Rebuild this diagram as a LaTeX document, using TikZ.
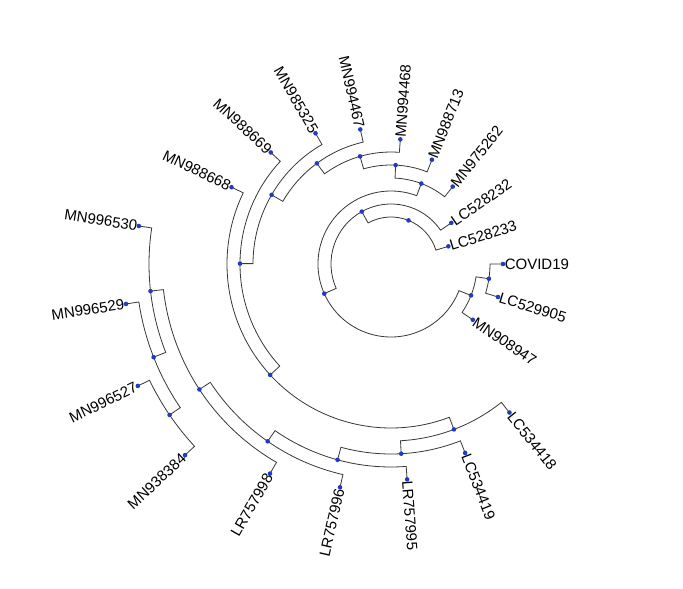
\documentclass[tikz,border=0pt]{standalone}
\usepackage{fontspec}
\setmainfont{Liberation Sans}
\definecolor{dotblue}{RGB}{35,60,190}
\definecolor{linegray}{RGB}{55,55,55}
\begin{document}
\begin{tikzpicture}[x=1pt,y=1pt,
  link/.style={draw=linegray, line width=0.8pt},
  dot/.style={circle, fill=dotblue, inner sep=0pt, minimum size=4.6pt},
  lab/.style={inner sep=1.6pt, font=\fontsize{15}{17}\selectfont},
  labr/.style={lab, anchor=west},
  labl/.style={lab, anchor=east}]
\useasboundingbox (-391,-325) rectangle (292,264);
\newcommand\tnode[3]{\coordinate (#1) at (#2:#3pt);%
  \expandafter\def\csname ang#1\endcsname{#2}%
  \expandafter\def\csname rad#1\endcsname{#3}}
\newcommand\lnk[2]{\draw[link] (#1) arc[start angle=\csname ang#1\endcsname, end angle=\csname ang#2\endcsname, radius=\csname rad#1\endcsname pt] -- (#2);}
% tree nodes (angle, radius)
\tnode{Y}{-291.8644}{47}
\tnode{X}{-240.8717}{60}
\tnode{LC528233}{-342.8571}{60}
\tnode{Da}{-156.0291}{73}
\tnode{LC528232}{-325.7143}{73}
\tnode{Q}{-21.4286}{86}
\tnode{W}{-290.6297}{86}
\tnode{P}{-8.5714}{99}
\tnode{MN908947}{-34.2857}{99}
\tnode{COVID19}{0}{112}
\tnode{LC529905}{-17.1429}{112}
\tnode{C}{-272.6880}{99}
\tnode{MN975262}{-308.5714}{99}
\tnode{B}{-253.9474}{112}
\tnode{MN988713}{-291.4286}{112}
\tnode{A}{-233.6091}{125}
\tnode{MN994468}{-274.2857}{125}
\tnode{Pa}{-210.0753}{138}
\tnode{MN994467}{-257.1429}{138}
\tnode{Na}{-180.1507}{151}
\tnode{MN985325}{-240}{151}
\tnode{Dsix}{-137.4442}{164}
\tnode{MN988669}{-222.8571}{164}
\tnode{Ea}{-69.1741}{177}
\tnode{MN988668}{-205.7143}{177}
\tnode{Eb}{-86.9196}{190}
\tnode{LC534418}{-51.4286}{190}
\tnode{Ec}{-105.2679}{203}
\tnode{LC534419}{-68.5714}{203}
\tnode{Ed}{-124.8214}{216}
\tnode{LR757995}{-85.7143}{216}
\tnode{Dfour}{-146.7857}{229}
\tnode{LR757996}{-102.8571}{229}
\tnode{Done}{-173.5714}{242}
\tnode{LR757998}{-120}{242}
\tnode{Dthree}{-158.5714}{255}
\tnode{MN996530}{-188.5714}{255}
\tnode{Dtwo}{-145.7143}{268}
\tnode{MN996529}{-171.4286}{268}
\tnode{MN938384}{-137.1429}{281}
\tnode{MN996527}{-154.2857}{281}
% links
\lnk{Y}{X}\lnk{Y}{LC528233}
\lnk{X}{Da}\lnk{X}{LC528232}
\lnk{Da}{Q}\lnk{Da}{W}
\lnk{Q}{P}\lnk{Q}{MN908947}
\lnk{P}{COVID19}\lnk{P}{LC529905}
\lnk{W}{C}\lnk{W}{MN975262}
\lnk{C}{B}\lnk{C}{MN988713}
\lnk{B}{A}\lnk{B}{MN994468}
\lnk{A}{Pa}\lnk{A}{MN994467}
\lnk{Pa}{Na}\lnk{Pa}{MN985325}
\lnk{Na}{Dsix}\lnk{Na}{MN988669}
\lnk{Dsix}{Ea}\lnk{Dsix}{MN988668}
\lnk{Ea}{LC534418}\lnk{Ea}{Eb}
\lnk{Eb}{LC534419}\lnk{Eb}{Ec}
\lnk{Ec}{LR757995}\lnk{Ec}{Ed}
\lnk{Ed}{LR757996}\lnk{Ed}{Dfour}
\lnk{Dfour}{LR757998}\lnk{Dfour}{Done}
\lnk{Done}{Dthree}\lnk{Done}{MN996530}
\lnk{Dthree}{Dtwo}\lnk{Dthree}{MN996529}
\lnk{Dtwo}{MN938384}\lnk{Dtwo}{MN996527}
% dots
\foreach \n in {Y,X,LC528233,Da,LC528232,Q,W,P,MN908947,COVID19,LC529905,C,MN975262,B,MN988713,A,MN994468,Pa,MN994467,Na,MN985325,Dsix,MN988669,Ea,MN988668,Eb,LC534418,Ec,LC534419,Ed,LR757995,Dfour,LR757996,Done,LR757998,Dthree,MN996530,Dtwo,MN996529,MN938384,MN996527}
  {\node[dot] (d\n) at (\n) {};}
% labels, right half
\node[labr, rotate=0] (tCOVID19) at (COVID19) {COVID19};
\node[labr, rotate=-17.1429] (tLC529905) at (LC529905) {LC529905};
\node[labr, rotate=-34.2857] (tMN908947) at (MN908947) {MN908947};
\node[labr, rotate=-51.4286] (tLC534418) at (LC534418) {LC534418};
\node[labr, rotate=-68.5714] (tLC534419) at (LC534419) {LC534419};
\node[labr, rotate=-85.7143] (tLR757995) at (LR757995) {LR757995};
\node[labr, rotate=85.7143] (tMN994468) at (MN994468) {MN994468};
\node[labr, rotate=68.5714] (tMN988713) at (MN988713) {MN988713};
\node[labr, rotate=51.4286] (tMN975262) at (MN975262) {MN975262};
\node[labr, rotate=34.2857] (tLC528232) at (LC528232) {LC528232};
\node[labr, rotate=17.1429] (tLC528233) at (LC528233) {LC528233};
% labels, left half
\node[labl, rotate=77.1429] (tLR757996) at (LR757996) {LR757996};
\node[labl, rotate=60] (tLR757998) at (LR757998) {LR757998};
\node[labl, rotate=42.8571] (tMN938384) at (MN938384) {MN938384};
\node[labl, rotate=25.7143] (tMN996527) at (MN996527) {MN996527};
\node[labl, rotate=8.5714] (tMN996529) at (MN996529) {MN996529};
\node[labl, rotate=-8.5714] (tMN996530) at (MN996530) {MN996530};
\node[labl, rotate=-25.7143] (tMN988668) at (MN988668) {MN988668};
\node[labl, rotate=-42.8571] (tMN988669) at (MN988669) {MN988669};
\node[labl, rotate=-60] (tMN985325) at (MN985325) {MN985325};
\node[labl, rotate=-77.1429] (tMN994467) at (MN994467) {MN994467};
\end{tikzpicture}
\end{document}
